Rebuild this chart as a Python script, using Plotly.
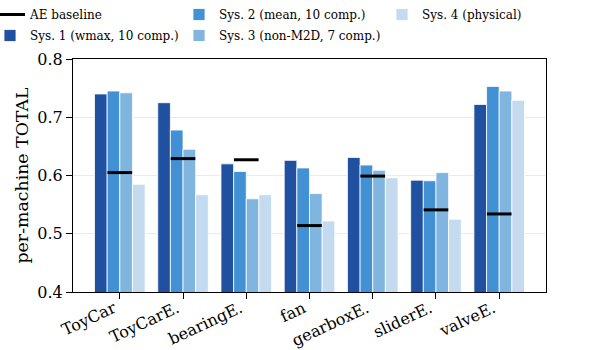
import plotly.graph_objects as go

categories = ["ToyCar", "ToyCarE.", "bearingE.", "fan", "gearboxE.", "sliderE.", "valveE."]
sys1 = [0.740, 0.725, 0.620, 0.626, 0.631, 0.592, 0.722]
sys2 = [0.745, 0.678, 0.607, 0.613, 0.618, 0.591, 0.753]
sys3 = [0.742, 0.645, 0.560, 0.569, 0.609, 0.605, 0.745]
sys4 = [0.585, 0.567, 0.567, 0.522, 0.596, 0.525, 0.729]
ae_baseline = [0.605, 0.629, 0.627, 0.514, 0.599, 0.541, 0.534]
yticks = [0.4, 0.5, 0.6, 0.7, 0.8]

names = ["Sys. 1 (wmax, 10 comp.)", "Sys. 2 (mean, 10 comp.)",
         "Sys. 3 (non-M2D, 7 comp.)", "Sys. 4 (physical)"]
colors = ["#2050a0", "#4391d5", "#80b5df", "#c4daee"]
legends = ["legend", "legend2", "legend2", "legend3"]
ranks = [2, 1, 2, 1]

FONT = "DejaVu Serif, serif"
xs = list(range(len(categories)))

fig = go.Figure()

for vals, name, col, lg, rk in zip([sys1, sys2, sys3, sys4], names, colors, legends, ranks):
    fig.add_trace(go.Bar(x=xs, y=vals, name=name, marker_color=col,
                         marker_line=dict(color="white", width=0.8), legend=lg,
                         legendrank=rk, legendgroup=name))

# AE baseline segments
ax, ay = [], []
half = 0.195
for i, v in enumerate(ae_baseline):
    ax += [i - half, i + half, None]
    ay += [v, v, None]
fig.add_trace(go.Scatter(x=ax, y=ay, mode="lines", name="AE baseline",
                         line=dict(color="black", width=3), legend="legend",
                         legendrank=1, legendgroup="AE baseline", hoverinfo="skip"))

W, H = 616, 350
L, R, T, B = 73, 70, 59, 58
PW, PH = W - L - R, H - T - B

def px_x(p):
    return (p - L) / PW

leg_y = 1 + T / PH
leg_common = dict(orientation="v", xanchor="left", yanchor="top",
                  font=dict(family=FONT, size=12, color="black"),
                  bgcolor="rgba(0,0,0,0)", tracegroupgap=2, itemwidth=30)

fig.update_layout(
    width=W, height=H,
    margin=dict(l=L, r=R, t=T, b=B, autoexpand=False),
    paper_bgcolor="white", plot_bgcolor="white",
    barmode="group", bargap=0.2, bargroupgap=0,
    font=dict(family=FONT, size=16, color="black"),
    legend=dict(x=px_x(31 - 41), y=leg_y, **leg_common),
    legend2=dict(x=px_x(220 - 41), y=leg_y, **leg_common),
    legend3=dict(x=px_x(423 - 41), y=leg_y, **leg_common),
    xaxis=dict(range=[-0.74, 6.74], tickmode="array", tickvals=xs, ticktext=categories,
               tickangle=-25, ticks="outside", ticklen=6, tickcolor="black",
               showline=True, linecolor="black", linewidth=1.2, mirror=True,
               showgrid=False, zeroline=False, ticklabelshift=-6,
               ticklabelstandoff=-6,
               tickfont=dict(family=FONT, size=16)),
    yaxis=dict(range=[0.4, 0.8], tickmode="array", tickvals=yticks,
               ticktext=[f"{v:.1f}" for v in yticks],
               ticks="outside", ticklen=6, tickcolor="black",
               showline=True, linecolor="black", linewidth=1.2, mirror=True,
               showgrid=True, gridcolor="#ebebeb", gridwidth=1, zeroline=False,
               tickfont=dict(family=FONT, size=16),
               title=dict(text="per-machine TOTAL", font=dict(family=FONT, size=17.33),
                          standoff=4)),
)

fig.write_html("out.html", config={"displayModeBar": False},
               post_script="document.body.style.margin='0';")
